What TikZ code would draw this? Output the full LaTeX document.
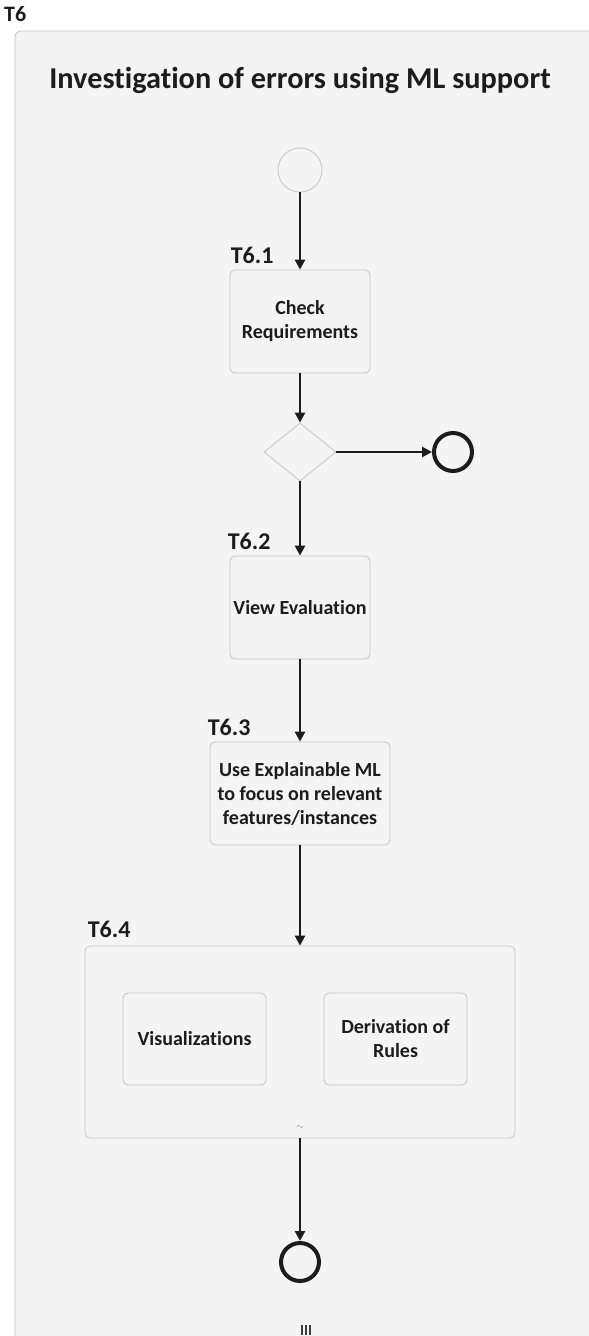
\documentclass[tikz,border=0pt]{standalone}
\usepackage{fontspec}
\setmainfont{Carlito}[Ligatures={NoCommon,NoContextual}]
\usetikzlibrary{arrows.meta,shapes.geometric}
\definecolor{poolfill}{HTML}{F4F4F4}
\definecolor{edge}{HTML}{C4C4C4}
\definecolor{ink}{HTML}{1C1C1C}
\begin{document}
\begin{tikzpicture}[x=1pt,y=-1pt,
  task/.style={draw=edge, fill=poolfill, rounded corners=5pt, line width=0.8pt,
    align=center, inner sep=0pt, text=ink,
    font=\bfseries\fontsize{20}{24}\selectfont},
  tag/.style={anchor=base west, inner sep=0pt, text=ink,
    font=\bfseries\fontsize{24}{28}\selectfont},
  flow/.style={draw=ink, line width=2.8pt, -{Triangle[length=10pt,width=10pt]}},
  startev/.style={circle, draw=edge, fill=poolfill, line width=0.8pt,
    minimum size=44pt, inner sep=0pt},
  endev/.style={circle, draw=ink, fill=poolfill, line width=4pt,
    minimum size=38pt, inner sep=0pt},
  gate/.style={diamond, draw=edge, fill=poolfill, line width=0.8pt,
    minimum width=72pt, minimum height=58pt, inner sep=0pt}
]
\clip (0,0) rectangle (589,1336);
\fill[white] (0,0) rectangle (589,1336);

% pool
\node[anchor=base west, inner sep=0pt, text=ink,
  font=\bfseries\fontsize{22}{26}\selectfont] (pooltag) at (4,21) {T6};
\draw[draw=edge, fill=poolfill, line width=0.8pt, rounded corners=6pt]
  (15,31) rectangle (640,1400);
\node[text=ink, font=\bfseries\fontsize{30.3}{36}\selectfont] (title) at (300,80)
  {Investigation of errors using ML support};

% flow nodes
\node[startev] (start) at (300,170) {};
\node[task, minimum width=140pt, minimum height=103pt] (t1) at (300,321.5)
  {Check\\Requirements};
\node[gate] (g) at (300,452) {};
\node[endev] (e1) at (453,452) {};
\node[task, minimum width=140pt, minimum height=103pt] (t2) at (300,607.5)
  {View Evaluation};
\node[task, minimum width=180pt, minimum height=103pt] (t3) at (300,793.5)
  {Use Explainable ML\\to focus on relevant\\features/instances};
\node[task, minimum width=430pt, minimum height=192pt] (t4) at (300,1042) {};
\node[task, minimum width=143pt, minimum height=92pt] (t4a) at (194.5,1039)
  {Visualizations};
\node[task, minimum width=143pt, minimum height=92pt] (t4b) at (395.5,1039)
  {Derivation of\\Rules};
\node[text=gray, inner sep=0pt, font=\fontsize{10}{10}\selectfont] (loop) at (300,1128) {$\sim$};
\node[endev] (e2) at (300,1262) {};

% task labels
\node[tag] at ([xshift=1pt,yshift=6pt]t1.north west) {T6.1};
\node[tag] at ([xshift=-2pt,yshift=6pt]t2.north west) {T6.2};
\node[tag] at ([xshift=-2pt,yshift=6pt]t3.north west) {T6.3};
\node[tag] at ([xshift=3pt,yshift=8pt]t4.north west) {T6.4};

% multi-instance marker
\coordinate (mi) at (306,1330);
\foreach \dx in {-4,0,4}
  \draw[draw=ink!85, line width=1.1pt] ([xshift=\dx pt,yshift=5pt]mi) -- ([xshift=\dx pt,yshift=-5pt]mi);

% sequence flows
\draw[flow] (start) -- (t1);
\draw[flow] (t1) -- (g);
\draw[flow] (g) -- (e1);
\draw[flow] (g) -- (t2);
\draw[flow] (t2) -- (t3);
\draw[flow] (t3) -- (t4);
\draw[flow] (t4) -- (e2);
\end{tikzpicture}
\end{document}
